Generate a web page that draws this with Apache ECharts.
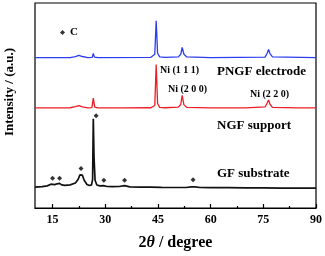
<!DOCTYPE html>
<html><head><meta charset="utf-8">
<script src="https://cdn.jsdelivr.net/npm/echarts@6/dist/echarts.min.js"></script>
<style>html,body{margin:0;padding:0;background:#fff}#c{width:325px;height:256px}</style>
</head><body><div id="c"></div>
<script>
// ---- data ----
var xMajorTicks = [15, 30, 45, 60, 75, 90];
var xMinorTicks = [22.5, 37.5, 52.5, 67.5, 82.5];
var gfX = [10, 12, 13.5, 14.5, 15, 15.6, 16.3, 17, 17.6, 18.5, 20, 21.5, 22.3, 22.8, 23.1, 23.5, 24, 24.8, 25.5, 26.1, 26.4, 26.6, 26.8, 27.1, 27.6, 28.5, 29.5, 30.5, 32, 34, 35.5, 37, 40, 43, 46, 50, 53, 54.5, 55, 55.5, 57, 60, 65, 70, 75, 80, 85, 90];
var gfY = [10.2, 10.4, 10.8, 11.6, 12.0, 11.4, 11.8, 12.0, 11.3, 11.0, 11.3, 12.2, 14.0, 16.2, 17.0, 16.0, 13.5, 11.5, 11.0, 11.3, 14.0, 43.5, 25.0, 13.5, 11.2, 10.8, 10.9, 10.5, 10.4, 10.5, 10.9, 10.3, 10.2, 10.2, 10.1, 10.0, 10.0, 10.3, 11.2, 10.3, 10.0, 9.9, 9.9, 9.8, 9.8, 9.7, 9.7, 9.7];
var ngfX = [10, 15, 20, 21.5, 22.5, 23.5, 25, 26.2, 26.6, 27.0, 28, 35, 43, 44.1, 44.5, 44.9, 45.5, 47, 50.8, 51.5, 51.9, 52.4, 53.2, 60, 70, 75.5, 76.1, 76.5, 76.9, 77.6, 85, 90];
var ngfY = [48.8, 48.8, 48.9, 49.4, 49.9, 49.3, 48.8, 49.0, 53.6, 49.2, 48.8, 48.8, 48.9, 50.0, 70.0, 51.0, 49.1, 48.9, 49.2, 50.5, 55.0, 50.3, 49.1, 48.8, 48.8, 49.3, 51.2, 52.7, 50.6, 49.1, 48.8, 48.8];
var pngfX = [10, 20, 21.5, 22.5, 23.5, 25, 26.3, 26.6, 26.9, 28, 43, 44.1, 44.5, 44.9, 45.5, 47, 50.8, 51.5, 51.9, 52.4, 53.2, 60, 75.5, 76.1, 76.5, 76.9, 77.6, 90];
var pngfY = [73.4, 73.4, 73.8, 74.4, 73.9, 73.4, 73.5, 75.4, 73.6, 73.4, 73.5, 75.0, 91.3, 75.5, 73.7, 73.5, 73.7, 75.0, 78.3, 75.0, 73.7, 73.4, 73.6, 75.5, 77.3, 75.3, 73.7, 73.4];
var carbonX = [15, 17, 23.1, 27.4, 29.6, 35.5, 55];
var carbonY = [14.5, 14.5, 19.3, 45.0, 13.5, 13.5, 13.8];

function zip(a, b) { return a.map(function (v, i) { return [v, b[i]]; }); }
var serif = '"Liberation Serif", "DejaVu Serif", serif';

var chart = echarts.init(document.getElementById('c'));
chart.setOption({
  animation: false,
  grid: { left: 35, right: 9, top: 3, bottom: 46, show: true, borderColor: '#000', borderWidth: 1.2, backgroundColor: 'transparent' },
  legend: {
    data: [{ name: 'C', icon: 'diamond' }],
    left: 55, top: 22, itemWidth: 5, itemHeight: 5, itemGap: 3,
    textStyle: { fontFamily: serif, fontWeight: 'bold', fontSize: 11, color: '#000' }
  },
  xAxis: [{
    type: 'value', min: 10, max: 90,
    name: '{a|2}{t|θ}{a| / degree}', nameLocation: 'middle', nameGap: 27,
    nameTextStyle: { rich: {
      a: { fontFamily: serif, fontWeight: 'bold', fontSize: 16, color: '#000' },
      t: { fontFamily: serif, fontWeight: 'bold', fontStyle: 'italic', fontSize: 16, color: '#000' } } },
    axisLine: { show: true, lineStyle: { color: '#000', width: 1.2 } },
    axisTick: { show: true, inside: true, length: 4, customValues: xMajorTicks, lineStyle: { color: '#000', width: 1.2 } },
    axisLabel: { customValues: xMajorTicks, margin: 6, fontFamily: serif, fontWeight: 'bold', fontSize: 12, color: '#000' },
    splitLine: { show: false }
  }, {
    type: 'value', min: 10, max: 90, position: 'bottom',
    axisLine: { show: false },
    axisTick: { show: true, inside: true, length: 2, customValues: xMinorTicks, lineStyle: { color: '#000', width: 1.2 } },
    axisLabel: { show: false },
    splitLine: { show: false }
  }],
  yAxis: {
    type: 'value', min: 0, max: 100,
    axisLine: { show: false }, axisTick: { show: false }, axisLabel: { show: false }, splitLine: { show: false }
  },
  series: [
    { name: 'GF substrate', type: 'line', data: zip(gfX, gfY), symbol: 'none', lineStyle: { color: '#111', width: 1.7 } },
    { name: 'NGF support', type: 'line', data: zip(ngfX, ngfY), symbol: 'none', lineStyle: { color: '#ee1c25', width: 1.3 } },
    { name: 'PNGF electrode', type: 'line', data: zip(pngfX, pngfY), symbol: 'none', lineStyle: { color: '#2b3cf2', width: 1.3 } },
    { name: 'C', type: 'scatter', data: zip(carbonX, carbonY), symbol: 'diamond', symbolSize: 5, itemStyle: { color: '#000' } }
  ],
  graphic: [
    { type: 'text', rotation: Math.PI / 2, x: 10, y: 92, style: { text: 'Intensity / (a.u.)', fontFamily: serif, fontWeight: 'bold', fontSize: 13, fill: '#000', align: 'center', verticalAlign: 'middle' } },
    { type: 'text', x: 217, y: 72, style: { text: 'PNGF electrode', fontFamily: serif, fontWeight: 'bold', fontSize: 13, fill: '#000', verticalAlign: 'middle' } },
    { type: 'text', x: 217, y: 126, style: { text: 'NGF support', fontFamily: serif, fontWeight: 'bold', fontSize: 13, fill: '#000', verticalAlign: 'middle' } },
    { type: 'text', x: 217, y: 174, style: { text: 'GF substrate', fontFamily: serif, fontWeight: 'bold', fontSize: 13, fill: '#000', verticalAlign: 'middle' } },
    { type: 'text', x: 160, y: 70, style: { text: 'Ni (1 1 1)', fontFamily: serif, fontWeight: 'bold', fontSize: 10, fill: '#000', verticalAlign: 'middle' } },
    { type: 'text', x: 168, y: 89, style: { text: 'Ni (2 0 0)', fontFamily: serif, fontWeight: 'bold', fontSize: 10, fill: '#000', verticalAlign: 'middle' } },
    { type: 'text', x: 250, y: 94, style: { text: 'Ni (2 2 0)', fontFamily: serif, fontWeight: 'bold', fontSize: 10, fill: '#000', verticalAlign: 'middle' } }
  ]
});
</script></body></html>
